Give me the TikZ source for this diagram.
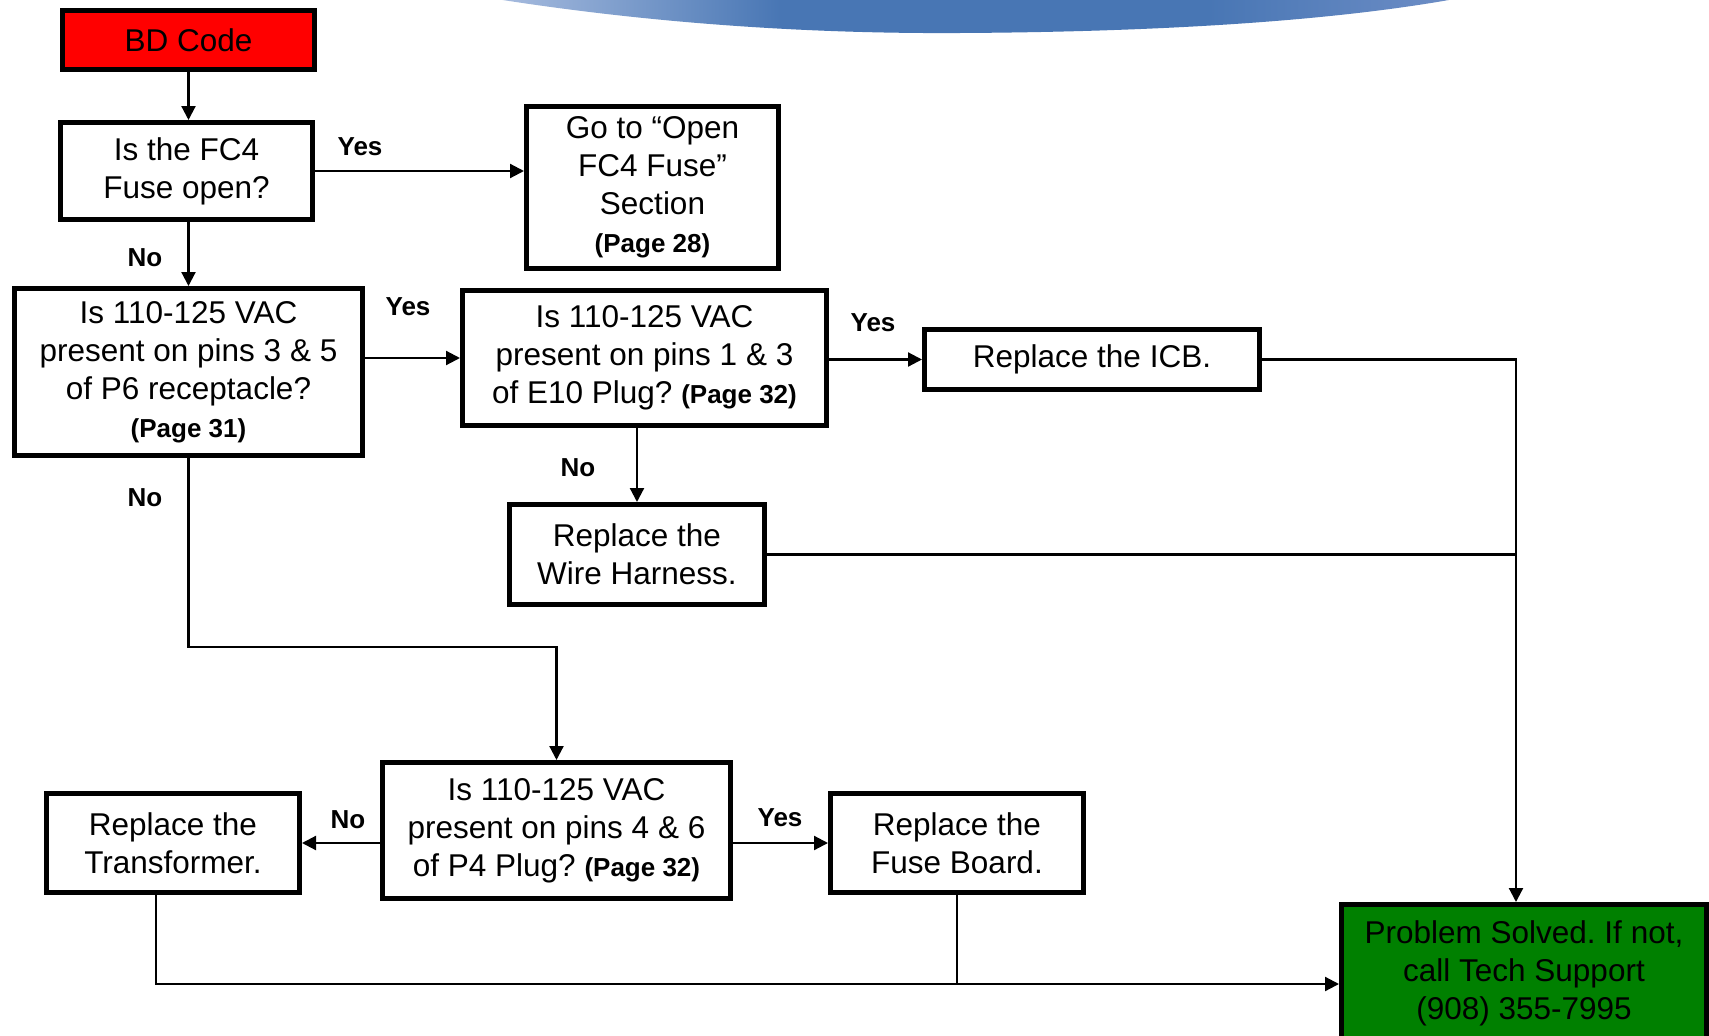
\documentclass[tikz,border=0pt]{standalone}
\usepackage{fontspec}
\setmainfont{Liberation Sans}
\usetikzlibrary{arrows.meta,calc}
\definecolor{swL}{RGB}{170,190,224}
\definecolor{swM}{RGB}{72,118,180}
\definecolor{swR}{RGB}{110,142,198}
\definecolor{bdred}{RGB}{255,0,0}
\definecolor{okgreen}{RGB}{0,128,0}
\pgfdeclarehorizontalshading{swoosh}{100bp}{color(0bp)=(swL); color(25bp)=(swL); color(40bp)=(swM); color(62bp)=(swM); color(75bp)=(swR); color(100bp)=(swR)}
\newcommand{\pgref}[1]{{\fontsize{26}{30}\selectfont\bfseries (Page #1)}}
\tikzset{
  box/.style={draw=black, line width=5pt, fill=white, align=center, inner sep=0pt,
    font=\fontsize{31.5}{38}\selectfont\frenchspacing, text=black},
  lbl/.style={font=\fontsize{26}{30}\selectfont\bfseries, inner sep=0pt},
  arr/.style={line width=2.2pt, -{Triangle[length=14pt,width=14pt]}},
  conn/.style={line width=2.2pt},
}
\begin{document}
\frenchspacing
\begin{tikzpicture}[x=1pt,y=-1pt]
\useasboundingbox (0,0) rectangle (1709,1036);
\fill[white] (0,0) rectangle (1709,1036);
% header swoosh
\shade[shading=swoosh]
  (490,-2) .. controls (640,22) and (800,34) .. (960,33)
  .. controls (1150,32) and (1330,22) .. (1460,-2) -- cycle;

% nodes
\node[box, fill=bdred, minimum width=252pt, minimum height=59pt] (bd) at (188.5,40) {BD Code};
\node[box, minimum width=252pt, minimum height=97pt] (fc4) at (186.5,171) {Is the FC4\\Fuse open?};
\node[box, minimum width=252pt, minimum height=162pt] (goto) at (652.5,187.5) {Go to “Open\\FC4 Fuse”\\Section\\\pgref{28}};
\node[box, minimum width=348pt, minimum height=167pt] (p6) at (188.5,372) {Is 110-125 VAC\\present on pins 3 \& 5\\of P6 receptacle?\\\pgref{31}};
\node[box, minimum width=364pt, minimum height=135pt] (e10) at (644.5,358) {Is 110-125 VAC\\present on pins 1 \& 3\\of E10 Plug? \pgref{32}};
\node[box, minimum width=335pt, minimum height=60pt] (icb) at (1092,359.5) {Replace the ICB.};
\node[box, minimum width=255pt, minimum height=100pt] (wire) at (637,554.5) {Replace the\\Wire Harness.};
\node[box, minimum width=348pt, minimum height=136pt] (p4) at (556.5,830.5) {Is 110-125 VAC\\present on pins 4 \& 6\\of P4 Plug? \pgref{32}};
\node[box, minimum width=253pt, minimum height=99pt] (trans) at (173,843) {Replace the\\Transformer.};
\node[box, minimum width=253pt, minimum height=99pt] (fuse) at (957,843) {Replace the\\Fuse Board.};
\node[box, fill=okgreen, minimum width=365pt, minimum height=137pt] (prob) at (1524,973) {Problem Solved. If not,\\call Tech Support\\(908) 355-7995};

% helper coordinates
\coordinate (jx) at (1516,0);
\coordinate (mid) at (0,647);
\coordinate (bot) at (0,984);
\coordinate (tb) at ($(trans.south)+(-17,0)$);

% connectors
\draw[arr] (bd.south) -- (bd.south |- fc4.north);
\draw[arr] (fc4.east) -- (goto.west |- fc4.east);
\draw[arr] (p6.north |- fc4.south) -- (p6.north);
\draw[arr] (p6.east |- e10.west) -- (e10.west);
\draw[arr] (e10.east |- icb.west) -- (icb.west);
\draw[arr] (wire.north |- e10.south) -- (wire.north);
\draw[arr] (icb.east) -- (icb.east -| jx) -- (jx |- prob.north);
\draw[conn] (wire.east) -- (wire.east -| jx);
\draw[arr] (p6.south) -- (p6.south |- mid) -- (p4.north |- mid) -- (p4.north);
\draw[arr] (p4.west |- trans.east) -- (trans.east);
\draw[arr] (p4.east |- fuse.west) -- (fuse.west);
\draw[arr] (tb) -- (tb |- bot) -- (prob.west |- bot);
\draw[conn] (fuse.south) -- (fuse.south |- bot);

% labels
\node[lbl] (y1) at (360,147) {Yes};
\node[lbl] (n1) at (145,258) {No};
\node[lbl] (y2) at (408,307) {Yes};
\node[lbl] (y3) at (873,323) {Yes};
\node[lbl] (n2) at (578,468) {No};
\node[lbl] (n3) at (145,498) {No};
\node[lbl] (n4) at (348,820) {No};
\node[lbl] (y4) at (780,818) {Yes};
\end{tikzpicture}
\end{document}
